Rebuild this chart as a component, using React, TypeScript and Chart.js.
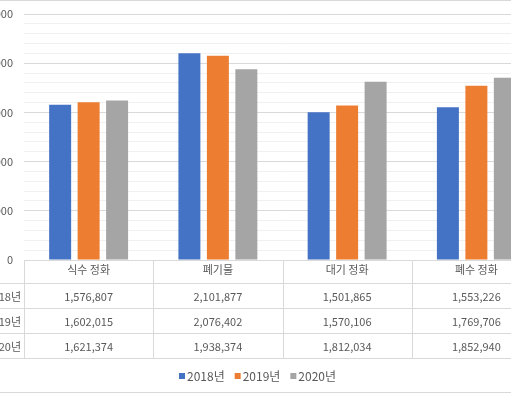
import React, { useEffect, useRef } from 'react';
import { Chart, registerables } from 'chart.js';

Chart.register(...registerables);

const categories = ['식수 정화', '폐기물', '대기 정화', '폐수 정화'];
const seriesNames = ['2018년', '2019년', '2020년'];
const values2018 = [1576807, 2101877, 1501865, 1553226];
const values2019 = [1602015, 2076402, 1570106, 1769706];
const values2020 = [1621374, 1938374, 1812034, 1852940];
const seriesValues = [values2018, values2019, values2020];
const seriesColors = ['#4472C4', '#ED7D31', '#A5A5A5'];
const yMin = 0;
const yMax = 2500000;
const yStep = 100000;
const yLabelStep = 500000;

const FONT = "'Noto Sans CJK KR', 'Noto Sans', sans-serif";
const TEXT = '#595959';
const LINE = '#d9d9d9';
const CANVAS_W = 636;
const CANVAS_H = 396;
const SHIFT = 60;

const fmt = (v: number) => v.toLocaleString('en-US');

const tablePlugin = {
  id: 'dataTableAndLegend',
  afterDraw(chart: any) {
    const ctx: CanvasRenderingContext2D = chart.ctx;
    const xs = chart.scales.x;
    const area = chart.chartArea;
    const half = (xs.getPixelForValue(1) - xs.getPixelForValue(0)) / 2;
    const top = Math.round(area.bottom);
    const headerH = 23;
    const rowH = 25;
    const tableBottom = top + headerH + rowH * seriesNames.length;
    const tableLeft = 20;
    const right = Math.round(xs.getPixelForValue(categories.length - 1) + half);

    ctx.save();
    ctx.strokeStyle = LINE;
    ctx.lineWidth = 1;
    ctx.beginPath();
    for (let i = 0; i <= categories.length; i++) {
      const bx =
        Math.round(i < categories.length ? xs.getPixelForValue(i) - half : xs.getPixelForValue(i - 1) + half) + 0.5;
      ctx.moveTo(bx, top);
      ctx.lineTo(bx, tableBottom + 0.5);
    }
    ctx.moveTo(tableLeft + 0.5, top + headerH);
    ctx.lineTo(tableLeft + 0.5, tableBottom + 0.5);
    for (let r = 0; r <= seriesNames.length; r++) {
      const y = top + headerH + rowH * r + 0.5;
      ctx.moveTo(tableLeft, y);
      ctx.lineTo(right + 1, y);
    }
    ctx.stroke();

    ctx.fillStyle = TEXT;
    ctx.font = `11px ${FONT}`;
    ctx.textBaseline = 'middle';
    for (let r = 0; r < seriesNames.length; r++) {
      const cy = top + headerH + rowH * r + rowH / 2 + 1;
      ctx.textAlign = 'right';
      ctx.fillText(seriesNames[r], area.left - 3, cy);
      ctx.textAlign = 'center';
      for (let i = 0; i < categories.length; i++) {
        ctx.fillText(fmt(seriesValues[r][i]), xs.getPixelForValue(i), cy);
      }
    }

    // legend
    ctx.font = `12px ${FONT}`;
    const box = 6;
    const gapBox = 2;
    const gapItem = 10;
    const widths = seriesNames.map((s) => ctx.measureText(s).width);
    const total = widths.reduce((a, w) => a + box + gapBox + w, 0) + gapItem * (seriesNames.length - 1);
    let lx = Math.round(chart.width / 2 - total / 2);
    const ly = 376;
    ctx.textAlign = 'left';
    for (let k = 0; k < seriesNames.length; k++) {
      ctx.fillStyle = seriesColors[k];
      ctx.fillRect(lx, ly - 3, box, box);
      lx += box + gapBox;
      ctx.fillStyle = TEXT;
      ctx.fillText(seriesNames[k], lx, ly);
      lx += widths[k] + gapItem;
    }

    // chart border
    ctx.strokeStyle = LINE;
    ctx.strokeRect(0.5, 0.5, chart.width - 1, 392);
    ctx.restore();
  },
};

export default function App() {
  const ref = useRef<HTMLCanvasElement | null>(null);
  useEffect(() => {
    if (!ref.current) return;
    const chart = new Chart(ref.current, {
      type: 'bar',
      data: {
        labels: categories,
        datasets: seriesNames.map((name, k) => ({
          label: name,
          data: seriesValues[k],
          backgroundColor: seriesColors[k],
          borderWidth: 0,
          categoryPercentage: 0.661,
          barPercentage: 0.772,
        })),
      },
      options: {
        responsive: false,
        animation: false,
        devicePixelRatio: 1,
        layout: { padding: { top: 14, left: 0, right: 35, bottom: 38 } },
        plugins: {
          legend: { display: false },
          tooltip: { enabled: false },
        },
        scales: {
          x: {
            grid: { display: false, drawTicks: false },
            border: { display: false },
            ticks: { color: TEXT, font: { family: FONT, size: 11 }, padding: 3, maxRotation: 0 },
            afterFit: (s: any) => {
              s.height = 98;
            },
          },
          y: {
            min: yMin,
            max: yMax,
            border: { display: false },
            grid: {
              drawTicks: false,
              color: (c: any) => (c.tick && c.tick.value % yLabelStep === 0 ? '#d9d9d9' : '#f0f0f0'),
            },
            ticks: {
              stepSize: yStep,
              autoSkip: false,
              padding: 11,
              color: TEXT,
              font: { family: FONT, size: 11 },
              callback: (v: any) => (Number(v) % yLabelStep === 0 ? fmt(Number(v)) : ''),
            },
            afterFit: (s: any) => {
              s.width = 84;
              s.paddingTop = 0;
              s.paddingBottom = 0;
            },
          },
        },
      },
      plugins: [tablePlugin],
    });
    return () => chart.destroy();
  }, []);
  return (
    <div style={{ position: 'fixed', left: 0, top: 0, width: 511, height: 396, overflow: 'hidden', background: '#fff' }}>
      <div style={{ position: 'absolute', left: -SHIFT, top: 0, width: CANVAS_W, height: CANVAS_H }}>
        <canvas ref={ref} width={CANVAS_W} height={CANVAS_H} style={{ display: 'block' }} />
      </div>
    </div>
  );
}
